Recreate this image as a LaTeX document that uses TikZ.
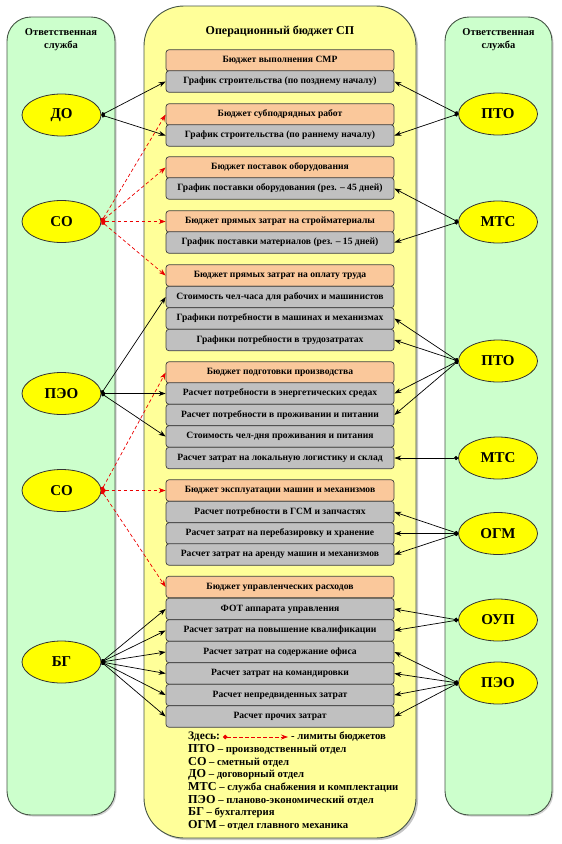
\documentclass[tikz,border=0pt]{standalone}
\usepackage{fontspec}
\setmainfont{Liberation Serif}
\usetikzlibrary{arrows.meta,shapes.geometric,shadows}
\definecolor{greenbg}{RGB}{204,255,204}
\definecolor{yellowbg}{RGB}{255,255,153}
\definecolor{orangebox}{RGB}{250,200,155}
\definecolor{graybox}{RGB}{192,192,192}
\definecolor{ellfill}{RGB}{255,255,0}
\definecolor{edgecol}{RGB}{70,85,70}
\definecolor{reddash}{RGB}{235,0,0}
\begin{document}
\begin{tikzpicture}[x=1pt,y=-1pt,
  colbox/.style={draw=edgecol, line width=0.9pt, fill=greenbg, rounded corners=24pt,
    drop shadow={opacity=0.35, shadow xshift=1.5pt, shadow yshift=-1.5pt}},
  midbox/.style={draw=edgecol, line width=0.9pt, fill=yellowbg, rounded corners=40pt,
    drop shadow={opacity=0.45, shadow xshift=2pt, shadow yshift=-2pt}},
  bx/.style={draw=black!75, line width=0.7pt, rounded corners=3pt, minimum width=228pt,
    minimum height=21.5pt, inner sep=0pt, font=\fontsize{9.6}{10}\selectfont\bfseries},
  ob/.style={bx, fill=orangebox},
  gb/.style={bx, fill=graybox},
  ell/.style={ellipse, draw=black!80, line width=0.8pt, fill=ellfill, minimum width=79pt,
    minimum height=42pt, inner sep=0pt, font=\fontsize{15}{16}\selectfont\bfseries},
  ttl/.style={align=center, font=\fontsize{10.5}{13}\selectfont\bfseries},
  leg/.style={anchor=west, inner sep=0pt, font=\fontsize{10.7}{12}\selectfont\bfseries},
  blk/.style={draw=black, line width=0.7pt, {Circle[length=4pt]}-{Stealth[length=7pt,width=5pt]}},
  rd/.style={draw=reddash, color=reddash, line width=0.7pt, dash pattern=on 3.5pt off 2.5pt,
    {Circle[length=4.5pt]}-{Stealth[length=7pt,width=5pt]}}
]
\useasboundingbox (0,0) rectangle (562,844);

% columns
\node[colbox, minimum width=108pt, minimum height=798pt] (lcol) at (61,416) {};
\node[colbox, minimum width=107pt, minimum height=798pt] (rcol) at (498.5,416) {};
\node[midbox, minimum width=272pt, minimum height=832pt] (mcol) at (280,422) {};

% titles
\node[ttl] (tl) at (61,39.5) {Ответственная\\служба};
\node[ttl] (tr) at (498.5,39.5) {Ответственная\\служба};
\node[ttl, font=\fontsize{12}{13}\selectfont\bfseries] (tm) at (280,31) {Операционный бюджет СП};

% boxes
\node[ob] (b1) at (280,60.5) {Бюджет выполнения СМР};
\node[gb] (g1) at (280,81.5) {График строительства (по позднему началу)};
\node[ob] (b2) at (280,114.5) {Бюджет субподрядных работ};
\node[gb] (g2) at (280,135.5) {График строительства (по раннему началу)};
\node[ob] (b3) at (280,167.5) {Бюджет поставок оборудования};
\node[gb] (g3) at (280,188.5) {График поставки оборудования (рез. – 45 дней)};
\node[ob] (b4) at (280,221.5) {Бюджет прямых затрат на стройматериалы};
\node[gb] (g4) at (280,242.5) {График поставки материалов (рез. – 15 дней)};
\node[ob] (b5) at (280,275.5) {Бюджет прямых затрат на оплату труда};
\node[gb] (g5a) at (280,297) {Стоимость чел-часа для рабочих и машинистов};
\node[gb] (g5b) at (280,318.5) {Графики потребности в машинах и механизмах};
\node[gb] (g5c) at (280,340) {Графики потребности в трудозатратах};
\node[ob] (b6) at (280,372.5) {Бюджет подготовки производства};
\node[gb] (g6a) at (280,393.5) {Расчет потребности в энергетических средах};
\node[gb] (g6b) at (280,415) {Расчет потребности в проживании и питании};
\node[gb] (g6c) at (280,436.5) {Стоимость чел-дня проживания и питания};
\node[gb] (g6d) at (280,458) {Расчет затрат на локальную логистику и склад};
\node[ob] (b7) at (280,490.5) {Бюджет эксплуатации машин и механизмов};
\node[gb] (g7a) at (280,512) {Расчет потребности в ГСМ и запчастях};
\node[gb] (g7b) at (280,533.5) {Расчет затрат на перебазировку и хранение};
\node[gb] (g7c) at (280,554.5) {Расчет затрат на аренду машин и механизмов};
\node[ob] (b8) at (280,587) {Бюджет управленческих расходов};
\node[gb] (g8a) at (280,609) {ФОТ аппарата управления};
\node[gb] (g8b) at (280,630.5) {Расчет затрат на повышение квалификации};
\node[gb] (g8c) at (280,652) {Расчет затрат на содержание офиса};
\node[gb] (g8d) at (280,673.5) {Расчет затрат на командировки};
\node[gb] (g8e) at (280,695) {Расчет непредвиденных затрат};
\node[gb] (g8f) at (280,716.5) {Расчет прочих затрат};

% left ellipses
\node[ell] (do) at (61.5,115) {ДО};
\node[ell] (so1) at (61.5,221.5) {СО};
\node[ell] (peo1) at (61.5,393.5) {ПЭО};
\node[ell] (so2) at (61.5,490.5) {СО};
\node[ell] (bg) at (61.5,662) {БГ};

% right ellipses
\node[ell] (pto1) at (498,114) {ПТО};
\node[ell] (mts1) at (498,222) {МТС};
\node[ell] (pto2) at (498,361) {ПТО};
\node[ell] (mts2) at (498,458) {МТС};
\node[ell] (ogm) at (498,533.5) {ОГМ};
\node[ell] (oup) at (498,620) {ОУП};
\node[ell] (peo2) at (498,683) {ПЭО};

% left connectors
\draw[blk] (do.east) -- (g1.west);
\draw[blk] (do.east) -- (g2.west);
\draw[rd] (so1.east) -- (b2.west);
\draw[rd] (so1.east) -- (b3.west);
\draw[rd] (so1.east) -- (b4.west);
\draw[rd] (so1.east) -- (b5.west);
\draw[blk] (peo1.east) -- (g5a.west);
\draw[blk] (peo1.east) -- (g6a.west);
\draw[blk] (peo1.east) -- (g6c.west);
\draw[rd] (so2.east) -- (b6.west);
\draw[rd] (so2.east) -- (b7.west);
\draw[rd] (so2.east) -- (b8.west);
\foreach \t in {g8a,g8b,g8c,g8d,g8e,g8f} \draw[blk] (bg.east) -- (\t.west);

% right connectors
\draw[blk] (pto1.west) -- (g1.east);
\draw[blk] (pto1.west) -- (g2.east);
\draw[blk] (mts1.west) -- (g3.east);
\draw[blk] (mts1.west) -- (g4.east);
\foreach \t in {g5b,g5c,g6a,g6b} \draw[blk] (pto2.west) -- (\t.east);
\draw[blk] (mts2.west) -- (g6d.east);
\foreach \t in {g7a,g7b,g7c} \draw[blk] (ogm.west) -- (\t.east);
\draw[blk] (oup.west) -- (g8a.east);
\draw[blk] (oup.west) -- (g8b.east);
\foreach \t in {g8c,g8d,g8e,g8f} \draw[blk] (peo2.west) -- (\t.east);

% legend
\node[leg] (l0) at (188,737) {\fontsize{11.5}{12}\selectfont Здесь:};
\coordinate (la) at (223,737);
\coordinate (lb) at (288,737);
\draw[rd] (la) -- (lb);
\node[leg] (l0b) at (291,737) {- лимиты бюджетов};
\node[leg] (l1) at (188,750) {{\fontsize{12.2}{12}\selectfont ПТО} – производственный отдел};
\node[leg] (l2) at (188,762.5) {{\fontsize{12.2}{12}\selectfont СО} – сметный отдел};
\node[leg] (l3) at (188,775) {{\fontsize{12.2}{12}\selectfont ДО} – договорный отдел};
\node[leg] (l4) at (188,787.5) {{\fontsize{12.2}{12}\selectfont МТС} – служба снабжения и комплектации};
\node[leg] (l5) at (188,800) {{\fontsize{12.2}{12}\selectfont ПЭО} – планово-экономический отдел};
\node[leg] (l6) at (188,812.5) {{\fontsize{12.2}{12}\selectfont БГ} – бухгалтерия};
\node[leg] (l7) at (188,825) {{\fontsize{12.2}{12}\selectfont ОГМ} – отдел главного механика};
\end{tikzpicture}
\end{document}
